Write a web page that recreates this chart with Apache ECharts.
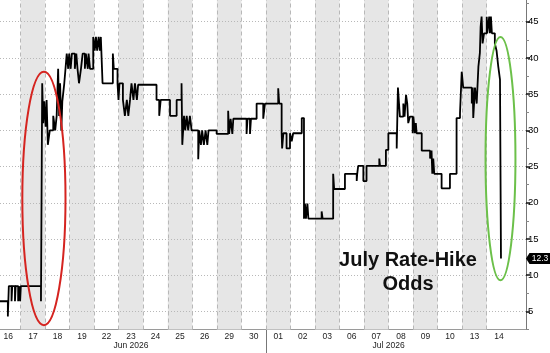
<!DOCTYPE html>
<html>
<head>
<meta charset="utf-8">
<script src="https://cdn.jsdelivr.net/npm/echarts@6/dist/echarts.min.js"></script>
<style>
  html, body { margin: 0; padding: 0; background: #fff; }
  #chart { width: 550px; height: 353px; }
</style>
</head>
<body>
<div id="chart"></div>
<script>
// trading days on the axis, one slot each (index 0 = Jun 16)
const dayLabels = ["16", "17", "18", "19", "22", "23", "24", "25", "26", "29", "30",
  "01", "02", "03", "06", "07", "08", "09", "10", "13", "14"]
const monthLabels = ["Jun 2026", "Jul 2026"]
const monthCenters = [5.5, 16]
const monthBreak = 11
const yTicks = [5, 10, 15, 20, 25, 30, 35, 40, 45]
const yMinorTicks = [2.5, 7.5, 12.5, 17.5, 22.5, 27.5, 32.5, 37.5, 42.5, 47.5]

// position in day slots, odds in %
const days = [
  0.16, 0.48, 0.52, 0.63, 0.66, 0.77, 0.80, 0.90, 0.93, 0.98, 1.01, 1.83, 1.88,
  1.92, 1.96, 2.02, 2.06, 2.11, 2.19, 2.33, 2.41, 2.47, 2.53, 2.57, 2.61, 2.66, 2.70,
  2.78, 2.83, 2.88, 2.94, 2.98, 3.04, 3.09, 3.21, 3.27, 3.32, 3.38, 3.46, 3.53, 3.62,
  3.66, 3.74, 3.77, 3.83, 3.96, 4.02, 4.07, 4.12, 4.18, 4.23, 4.27, 4.34, 4.76, 4.80,
  4.95, 4.99, 5.03, 5.17, 5.25, 5.33, 5.39, 5.46, 5.52, 5.60, 5.66, 5.74, 5.79,
  6.54, 6.65, 6.71, 7.09, 7.36, 7.56, 7.59, 7.66, 7.71, 7.77, 7.83, 7.90, 7.97,
  8.24, 8.28, 8.35, 8.40, 8.47, 8.54, 8.61, 8.66, 8.99, 9.46, 9.50, 9.56, 9.63, 9.67,
  10.21, 10.25, 10.35, 10.39, 10.62, 10.89, 10.96, 11.50, 11.54, 11.64, 11.66, 11.71,
  11.84, 11.98, 12.05, 12.11, 12.46, 12.55, 12.59, 12.63, 12.69, 12.73, 13.27, 13.31,
  13.74, 13.78, 14.22, 14.70, 14.72, 14.76, 14.97, 15.10, 15.62, 15.65, 15.89, 15.99,
  16.33, 16.38, 16.46, 16.60, 16.65, 16.71, 16.76, 16.80, 16.87, 16.98, 17.01, 17.07,
  17.11, 17.14, 17.35, 17.69, 17.75, 17.78, 17.82, 17.86, 18.16, 18.50, 18.77, 18.91,
  18.98, 19.04, 19.39, 19.43, 19.45, 19.52, 19.59, 19.66, 19.72, 19.75, 19.79, 19.83,
  19.89, 20.00, 20.02, 20.10, 20.13, 20.17, 20.21, 20.33, 20.40, 20.47, 20.54, 20.58
]
const odds = [
  6.4, 4.3, 8.5, 6.4, 8.5, 6.4, 8.5, 6.4, 8.5, 6.4, 8.5, 6.4, 36.5,
  31, 34, 30.5, 34.2, 28, 30, 32, 30, 32, 38.5, 32, 36.5, 30, 34,
  36.5, 38.5, 40.6, 38.5, 40.6, 38.5, 40.6, 38.5, 40.6, 38.5, 36.5, 38.5, 40.6, 38.5,
  40.6, 38.5, 40.6, 38.5, 42.9, 41, 42.9, 41, 42.9, 41, 42.9, 36.5, 40.6, 38.5,
  36.5, 34.2, 36.5, 34.2, 32, 34.2, 32, 34.2, 36.5, 34.2, 36.5, 34.2, 36.3,
  34.2, 32, 34.2, 32, 34.2, 36.5, 28, 32, 30, 32, 30, 32, 30,
  26, 30, 28, 30, 28, 30, 28, 30, 29.5, 32.7, 29.5, 31.6, 29.5, 31.6,
  29.5, 31.6, 29.5, 31.6, 33.7, 31.6, 33.7, 35.8, 33.7, 29.6, 27.5, 29.6,
  27.5, 29.6, 28.5, 29.6, 31.7, 17.8, 19.9, 17.8, 19.9, 17.8, 18.8, 17.8,
  24, 21.9, 24, 23, 24, 25.1, 23, 25.1, 26.1, 25.1, 27.3, 29.6,
  27.5, 35.9, 31.9, 33.7, 31.9, 34.9, 33.7, 31, 31.9, 29.6, 31.9, 29.6,
  31, 29.6, 27.2, 26.1, 27.2, 24, 26.1, 24, 22, 24, 31.7, 32.4,
  38.1, 35.9, 33.7, 35.9, 31.7, 35.9, 33.7, 38.8, 40.7, 44.3, 45.7, 42,
  43.4, 45.7, 43.4, 45.7, 43.4, 45.7, 43.4, 42, 41, 38.8, 37, 12.3
]

// hand-drawn rings, in data units: [centre day, centre odds, half-width days, half-height odds]
const redRing = [1.95, 20.6, 0.88, 17.5]
const greenRing = [20.56, 26.1, 0.61, 16.8]

const xMin = 0.16
const xMax = 21.6
const yMin = 2.5
const yMax = 48
const font = "Liberation Sans, Arial, sans-serif"

const chart = echarts.init(document.getElementById("chart"), null, { renderer: "canvas" })

const bands = []
for (let i = 1; i < dayLabels.length; i += 2) bands.push([{ xAxis: i }, { xAxis: i + 1 }])
const dayLines = []
for (let i = 1; i < dayLabels.length; i++) dayLines.push({ xAxis: i })
const gridLines = yTicks.map((v) => ({ yAxis: v }))

const last = odds[odds.length - 1]

chart.setOption({
  animation: false,
  textStyle: { fontFamily: font },
  grid: { left: 0, right: 24, top: 0, bottom: 23.5 },
  xAxis: [
    {
      type: "value", min: xMin, max: xMax, position: "bottom",
      axisLine: { show: true, lineStyle: { color: "#9a9a9a", width: 1 } },
      axisTick: { show: true, customValues: [monthBreak], length: 24, lineStyle: { color: "#777", width: 1 } },
      axisLabel: {
        customValues: dayLabels.map((_, i) => i + 0.5),
        formatter: (v) => dayLabels[Math.floor(v)] || "",
        fontSize: 8.5, color: "#222", margin: 3, fontFamily: font,
      },
      splitLine: { show: false },
    },
    {
      type: "value", min: xMin, max: xMax, position: "bottom",
      axisLine: { show: false }, axisTick: { show: false },
      axisLabel: {
        customValues: monthCenters,
        formatter: (v) => monthLabels[monthCenters.indexOf(v)] || "",
        fontSize: 8.5, color: "#222", margin: 12, fontFamily: font,
      },
      splitLine: { show: false },
    },
  ],
  yAxis: [
    {
      type: "value", min: yMin, max: yMax, position: "right",
      axisLine: { show: true, lineStyle: { color: "#777", width: 1 } },
      axisTick: { show: true, customValues: yTicks, length: 4, lineStyle: { color: "#111", width: 1.5 } },
      axisLabel: { customValues: yTicks, fontSize: 9.5, color: "#000", margin: 2, fontFamily: font },
      splitLine: { show: false },
    },
    {
      type: "value", min: yMin, max: yMax, position: "right",
      axisLine: { show: false },
      axisTick: { show: true, customValues: yMinorTicks, length: 3, lineStyle: { color: "#888", width: 1 } },
      axisLabel: { show: false },
      splitLine: { show: false },
    },
  ],
  series: [
    {
      // backdrop: shaded alternate days, day dividers, dotted level lines
      type: "line", xAxisIndex: 1, yAxisIndex: 1, data: [], silent: true, z: 1,
      markArea: { silent: true, itemStyle: { color: "#e6e6e6" }, data: bands },
      markLine: {
        silent: true, symbol: "none", label: { show: false },
        data: [
          ...dayLines.map((d) => ({ ...d, lineStyle: { color: "#b8b8b8", type: [4, 3], width: 1 } })),
          ...gridLines.map((d) => ({ ...d, lineStyle: { color: "#b8b8b8", type: [1, 2], width: 1 } })),
        ],
      },
    },
    {
      type: "line", step: "end", z: 5,
      data: days.map((d, i) => [d, odds[i]]),
      showSymbol: false, symbol: "none",
      lineStyle: { color: "#000", width: 1.8 },
      markPoint: {
        silent: true,
        symbol: "path://M0,5.5 L3.5,0 H25 V11 H3.5 Z",
        symbolSize: [25, 11],
        symbolKeepAspect: false,
        symbolOffset: [12.5, 0],
        itemStyle: { color: "#000" },
        label: {
          show: true, position: "inside", color: "#fff", fontSize: 8.5,
          fontFamily: font, offset: [1.5, 0], formatter: () => last.toFixed(1),
        },
        data: [{ coord: [xMax, last] }],
      },
    },
  ],
})

function ring([cx, cy, rx, ry], color) {
  const c = chart.convertToPixel({ gridIndex: 0 }, [cx, cy])
  const e = chart.convertToPixel({ gridIndex: 0 }, [cx + rx, cy + ry])
  return {
    type: "ellipse", z: 20, silent: true,
    shape: { cx: c[0], cy: c[1], rx: Math.abs(e[0] - c[0]), ry: Math.abs(c[1] - e[1]) },
    style: { fill: null, stroke: color, lineWidth: 2 },
  }
}

chart.setOption({
  graphic: [
    ring(redRing, "#d52420"),
    ring(greenRing, "#6cc04a"),
    {
      type: "text", z: 30, x: 408, y: 248, silent: true,
      style: {
        text: "July Rate-Hike\nOdds", fill: "#111", font: "bold 20px " + font,
        align: "center", lineHeight: 24,
      },
    },
  ],
})
</script>
</body>
</html>
